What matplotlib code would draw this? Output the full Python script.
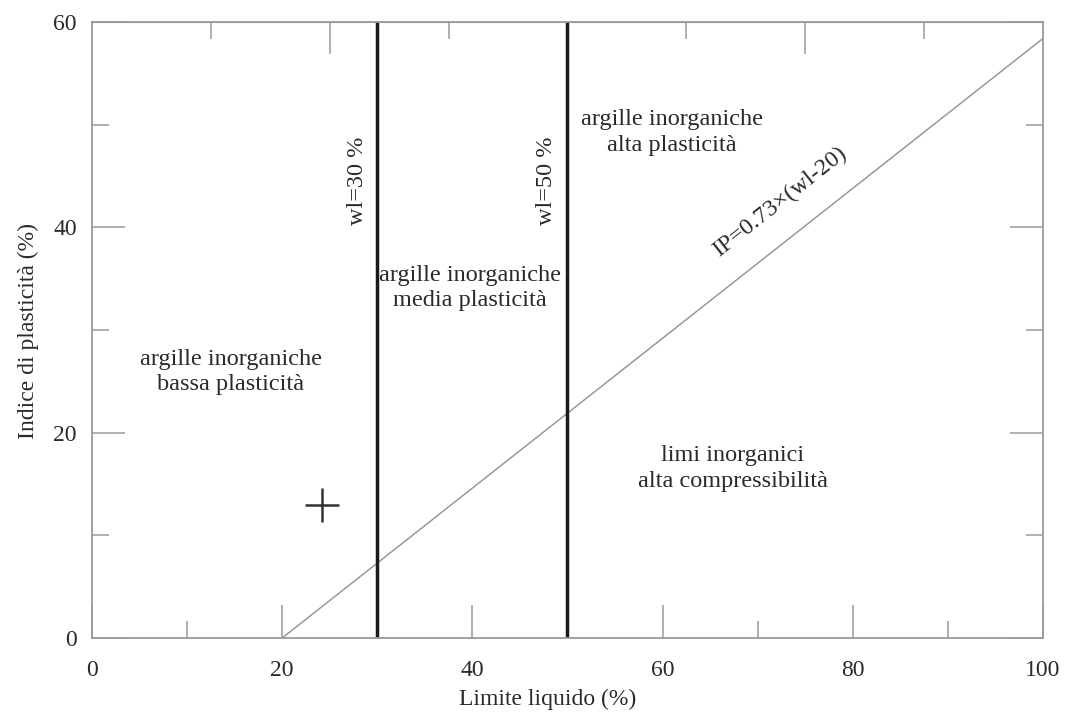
import matplotlib
matplotlib.use("Agg")
import matplotlib.pyplot as plt

plt.rcParams['font.family'] = ['Liberation Serif', 'DejaVu Serif']

# data
x_major = [0, 20, 40, 60, 80, 100]
x_minor = [10, 30, 50, 70, 90]
y_major = [0, 20, 40, 60]
y_minor = [10, 30, 50]
top_major = [25, 50, 75]
top_minor = [12.5, 37.5, 62.5, 87.5]
wl_lines = [30, 50]
aline_x = [20, 100]
aline_y = [0.73 * (v - 20) for v in aline_x]
sample_x = [24.2]
sample_y = [13.0]

regions = [
    ("argille inorganiche\nbassa plasticità", 14.6, 25.9),
    ("argille inorganiche\nmedia plasticità", 39.7, 34.1),
    ("argille inorganiche\nalta plasticità", 61.0, 49.2),
    ("limi inorganici\nalta compressibilità", 67.4, 16.5),
]
wl_labels = [("wl=30 %", 27.9, 44.5), ("wl=50 %", 47.8, 44.5)]
aline_label = ("IP=0.73×(wl-20)", 72.3, 42.5)

fig = plt.figure(figsize=(10.67, 7.15), dpi=100)
ax = fig.add_axes([0.0862, 0.1077, 0.8913, 0.8615])
ax.set_xlim(0, 100)
ax.set_ylim(0, 60)

fc = '#9a9a9a'
tc = '#2a2a2a'
for s in ax.spines.values():
    s.set_color(fc)
    s.set_linewidth(1.3)

# A-line
ax.plot(aline_x, aline_y, color='#999999', lw=1.1)
# wl lines
for w in wl_lines:
    ax.axvline(w, color='#1a1a1a', lw=2.5)

ax.plot(sample_x, sample_y, marker='+', color='#333333', ms=24, mew=1.8, ls='none')

ax.set_xticks(x_major)
ax.set_xticks(x_minor, minor=True)
ax.set_yticks(y_major)
ax.set_yticks(y_minor, minor=True)
ax.tick_params(which='major', direction='in', length=24, width=1.1, color=fc,
               labelsize=17, labelcolor=tc, right=True)
ax.tick_params(which='minor', direction='in', length=12, width=1.1, color=fc, right=True)
ax.tick_params(axis='x', pad=16)
ax.tick_params(axis='y', pad=11)

sec = ax.secondary_xaxis('top')
sec.set_xticks(top_major)
sec.set_xticks(top_minor, minor=True)
sec.tick_params(which='major', direction='in', length=23, width=1.1, color=fc, labeltop=False)
sec.tick_params(which='minor', direction='in', length=12, width=1.1, color=fc)
sec.spines['top'].set_color(fc)

ax.set_xlabel('Limite liquido (%)', fontsize=17, color=tc)
ax.xaxis.set_label_coords(0.4795, -0.083)
ax.set_ylabel('Indice di plasticità (%)', fontsize=17, color=tc)
ax.yaxis.set_label_coords(-0.056, 0.498)

for txt, x, y in regions:
    ax.text(x, y, txt, ha='center', va='center', fontsize=17.5, color=tc,
            linespacing=1.3)

for txt, x, y in wl_labels:
    ax.text(x, y, txt, rotation=90, ha='center', va='center',
            fontsize=17.5, color=tc)

txt, x, y = aline_label
ax.text(x, y, txt, rotation=38.3, ha='center', va='center',
        fontsize=17.5, color=tc, rotation_mode='anchor')

fig.savefig('out.png', dpi=100)
